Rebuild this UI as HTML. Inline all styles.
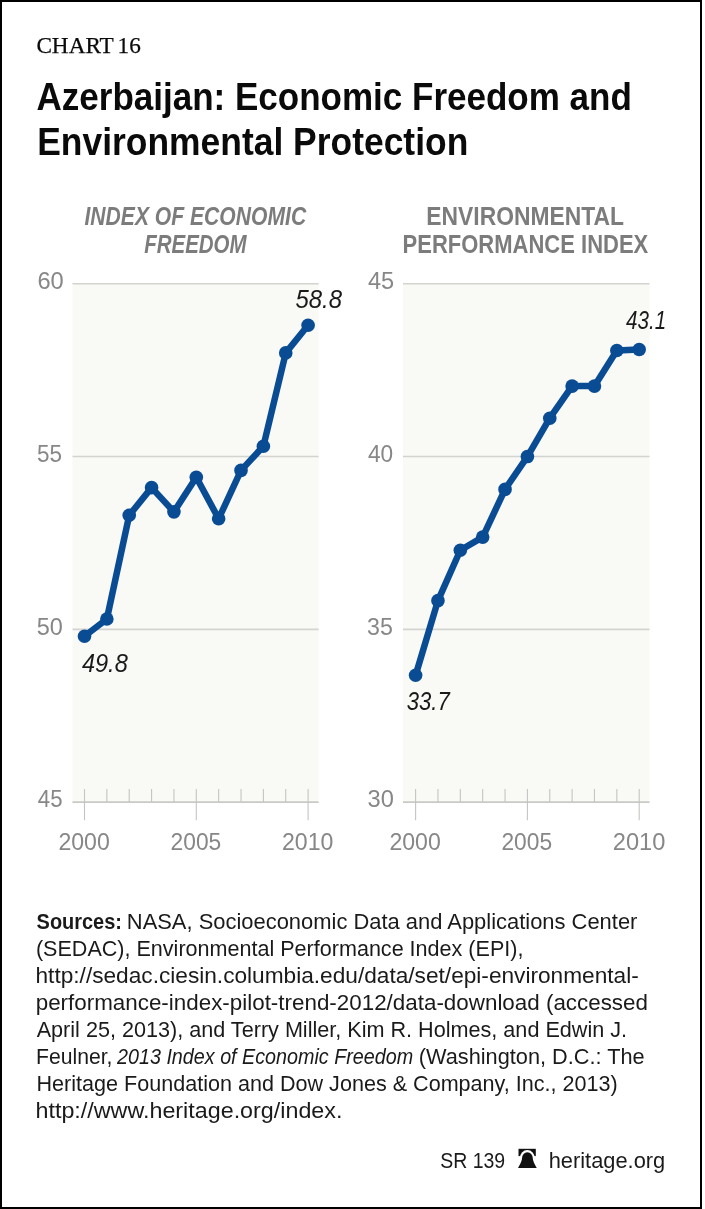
<!DOCTYPE html>
<html><head><meta charset="utf-8"><title>Azerbaijan: Economic Freedom and Environmental Protection</title><style>
html,body{margin:0;padding:0;background:#fff;}
body{width:705px;height:1209px;position:relative;overflow:hidden;}
#frame{position:absolute;left:0;top:0;width:698px;height:1205px;border:2px solid #000;}
svg{position:absolute;left:0;top:0;}
text{font-family:"Liberation Sans",sans-serif;white-space:pre;}
.ser{font-family:"Liberation Serif",serif;word-spacing:-1.5px;font-size:23.8px;fill:#0a0a0a;stroke:#0a0a0a;stroke-width:0.25px;}
.tit{font-weight:bold;font-size:39.5px;fill:#0a0a0a;}
.hi{font-style:italic;font-weight:bold;font-size:25.3px;fill:#7c7c7c;}
.hb{font-weight:bold;font-size:25.3px;fill:#7c7c7c;}
.ax{font-size:23.4px;fill:#878787;}
.vl{font-style:italic;font-size:25.8px;fill:#1a1a1a;}
.src{font-size:22px;fill:#1a1a1a;}
.ft{font-size:22px;fill:#1a1a1a;}
</style></head><body>
<div id="frame"></div>
<svg width="705" height="1209" viewBox="0 0 705 1209">
<rect x="72.5" y="283.8" width="246.10" height="518.30" fill="#f9f9f5"/>
<line x1="72.5" y1="283.80" x2="318.6" y2="283.80" stroke="#d3d3cf" stroke-width="1.6"/>
<line x1="72.5" y1="456.57" x2="318.6" y2="456.57" stroke="#d3d3cf" stroke-width="1.6"/>
<line x1="72.5" y1="629.33" x2="318.6" y2="629.33" stroke="#d3d3cf" stroke-width="1.6"/>
<line x1="72.5" y1="802.10" x2="318.6" y2="802.10" stroke="#c9c9c6" stroke-width="1.6"/>
<line x1="84.50" y1="789.0" x2="84.50" y2="820.3" stroke="#c4c4c2" stroke-width="1.1"/>
<line x1="106.86" y1="789.0" x2="106.86" y2="802.1" stroke="#c4c4c2" stroke-width="1.1"/>
<line x1="129.22" y1="789.0" x2="129.22" y2="802.1" stroke="#c4c4c2" stroke-width="1.1"/>
<line x1="151.58" y1="789.0" x2="151.58" y2="802.1" stroke="#c4c4c2" stroke-width="1.1"/>
<line x1="173.94" y1="789.0" x2="173.94" y2="802.1" stroke="#c4c4c2" stroke-width="1.1"/>
<line x1="196.30" y1="789.0" x2="196.30" y2="820.3" stroke="#c4c4c2" stroke-width="1.1"/>
<line x1="218.66" y1="789.0" x2="218.66" y2="802.1" stroke="#c4c4c2" stroke-width="1.1"/>
<line x1="241.02" y1="789.0" x2="241.02" y2="802.1" stroke="#c4c4c2" stroke-width="1.1"/>
<line x1="263.38" y1="789.0" x2="263.38" y2="802.1" stroke="#c4c4c2" stroke-width="1.1"/>
<line x1="285.74" y1="789.0" x2="285.74" y2="802.1" stroke="#c4c4c2" stroke-width="1.1"/>
<line x1="308.10" y1="789.0" x2="308.10" y2="820.3" stroke="#c4c4c2" stroke-width="1.1"/>
<polyline points="84.50,636.24 106.86,618.97 129.22,515.31 151.58,487.66 173.94,511.85 196.30,477.30 218.66,518.76 241.02,470.39 263.38,446.20 285.74,352.91 308.10,325.26" fill="none" stroke="#0a4c94" stroke-width="6.5" stroke-linejoin="round"/>
<circle cx="84.50" cy="636.24" r="6.8" fill="#0a4c94"/>
<circle cx="106.86" cy="618.97" r="6.8" fill="#0a4c94"/>
<circle cx="129.22" cy="515.31" r="6.8" fill="#0a4c94"/>
<circle cx="151.58" cy="487.66" r="6.8" fill="#0a4c94"/>
<circle cx="173.94" cy="511.85" r="6.8" fill="#0a4c94"/>
<circle cx="196.30" cy="477.30" r="6.8" fill="#0a4c94"/>
<circle cx="218.66" cy="518.76" r="6.8" fill="#0a4c94"/>
<circle cx="241.02" cy="470.39" r="6.8" fill="#0a4c94"/>
<circle cx="263.38" cy="446.20" r="6.8" fill="#0a4c94"/>
<circle cx="285.74" cy="352.91" r="6.8" fill="#0a4c94"/>
<circle cx="308.10" cy="325.26" r="6.8" fill="#0a4c94"/>
<rect x="403.0" y="283.8" width="246.50" height="518.30" fill="#f9f9f5"/>
<line x1="403.0" y1="283.80" x2="649.5" y2="283.80" stroke="#d3d3cf" stroke-width="1.6"/>
<line x1="403.0" y1="456.57" x2="649.5" y2="456.57" stroke="#d3d3cf" stroke-width="1.6"/>
<line x1="403.0" y1="629.33" x2="649.5" y2="629.33" stroke="#d3d3cf" stroke-width="1.6"/>
<line x1="403.0" y1="802.10" x2="649.5" y2="802.10" stroke="#c9c9c6" stroke-width="1.6"/>
<line x1="415.60" y1="789.0" x2="415.60" y2="820.3" stroke="#c4c4c2" stroke-width="1.1"/>
<line x1="437.96" y1="789.0" x2="437.96" y2="802.1" stroke="#c4c4c2" stroke-width="1.1"/>
<line x1="460.32" y1="789.0" x2="460.32" y2="802.1" stroke="#c4c4c2" stroke-width="1.1"/>
<line x1="482.68" y1="789.0" x2="482.68" y2="802.1" stroke="#c4c4c2" stroke-width="1.1"/>
<line x1="505.04" y1="789.0" x2="505.04" y2="802.1" stroke="#c4c4c2" stroke-width="1.1"/>
<line x1="527.40" y1="789.0" x2="527.40" y2="820.3" stroke="#c4c4c2" stroke-width="1.1"/>
<line x1="549.76" y1="789.0" x2="549.76" y2="802.1" stroke="#c4c4c2" stroke-width="1.1"/>
<line x1="572.12" y1="789.0" x2="572.12" y2="802.1" stroke="#c4c4c2" stroke-width="1.1"/>
<line x1="594.48" y1="789.0" x2="594.48" y2="802.1" stroke="#c4c4c2" stroke-width="1.1"/>
<line x1="616.84" y1="789.0" x2="616.84" y2="802.1" stroke="#c4c4c2" stroke-width="1.1"/>
<line x1="639.20" y1="789.0" x2="639.20" y2="820.3" stroke="#c4c4c2" stroke-width="1.1"/>
<polyline points="415.60,675.29 437.96,600.65 460.32,550.21 482.68,537.08 505.04,489.39 527.40,456.57 549.76,418.21 572.12,386.08 594.48,386.08 616.84,350.49 639.20,349.45" fill="none" stroke="#0a4c94" stroke-width="6.5" stroke-linejoin="round"/>
<circle cx="415.60" cy="675.29" r="6.8" fill="#0a4c94"/>
<circle cx="437.96" cy="600.65" r="6.8" fill="#0a4c94"/>
<circle cx="460.32" cy="550.21" r="6.8" fill="#0a4c94"/>
<circle cx="482.68" cy="537.08" r="6.8" fill="#0a4c94"/>
<circle cx="505.04" cy="489.39" r="6.8" fill="#0a4c94"/>
<circle cx="527.40" cy="456.57" r="6.8" fill="#0a4c94"/>
<circle cx="549.76" cy="418.21" r="6.8" fill="#0a4c94"/>
<circle cx="572.12" cy="386.08" r="6.8" fill="#0a4c94"/>
<circle cx="594.48" cy="386.08" r="6.8" fill="#0a4c94"/>
<circle cx="616.84" cy="350.49" r="6.8" fill="#0a4c94"/>
<circle cx="639.20" cy="349.45" r="6.8" fill="#0a4c94"/>
<text id="chart16" x="36.40" y="52.6" class="ser" textLength="104.41" lengthAdjust="spacingAndGlyphs">CHART 16</text>
<text id="t1" x="36.50" y="110.4" class="tit" textLength="595.34" lengthAdjust="spacingAndGlyphs">Azerbaijan: Economic Freedom and</text>
<text id="t2" x="37.20" y="155.4" class="tit" textLength="431.08" lengthAdjust="spacingAndGlyphs">Environmental Protection</text>
<text id="h1a" x="84.50" y="225" class="hi" textLength="221.64" lengthAdjust="spacingAndGlyphs">INDEX OF ECONOMIC</text>
<text id="h1b" x="144.20" y="252.8" class="hi" textLength="102.40" lengthAdjust="spacingAndGlyphs">FREEDOM</text>
<text id="h2a" x="426.30" y="225.1" class="hb" textLength="197.68" lengthAdjust="spacingAndGlyphs">ENVIRONMENTAL</text>
<text id="h2b" x="402.60" y="252.7" class="hb" textLength="245.67" lengthAdjust="spacingAndGlyphs">PERFORMANCE INDEX</text>
<text id="v588" x="295.40" y="308" class="vl" textLength="46.59" lengthAdjust="spacingAndGlyphs">58.8</text>
<text id="v498" x="81.90" y="671.8" class="vl" textLength="45.89" lengthAdjust="spacingAndGlyphs">49.8</text>
<text id="v431" x="626.10" y="329" class="vl" textLength="40.09" lengthAdjust="spacingAndGlyphs">43.1</text>
<text id="v337" x="406.80" y="710.2" class="vl" textLength="42.89" lengthAdjust="spacingAndGlyphs">33.7</text>
<text id="s1a" x="36.60" y="928.8" class="src" textLength="85.36" lengthAdjust="spacingAndGlyphs"><tspan font-weight="bold">Sources:</tspan></text>
<text id="s1b" x="126.80" y="928.8" class="src" textLength="510.61" lengthAdjust="spacingAndGlyphs">NASA, Socioeconomic Data and Applications Center</text>
<text id="s2" x="35.90" y="955.8" class="src" textLength="487.53" lengthAdjust="spacingAndGlyphs">(SEDAC), Environmental Performance Index (EPI),</text>
<text id="s3" x="35.50" y="982.6" class="src" textLength="603.28" lengthAdjust="spacingAndGlyphs">http://sedac.ciesin.columbia.edu/data/set/epi-environmental-</text>
<text id="s4" x="35.70" y="1009.6" class="src" textLength="612.27" lengthAdjust="spacingAndGlyphs">performance-index-pilot-trend-2012/data-download (accessed</text>
<text id="s5" x="36.70" y="1036.6" class="src" textLength="590.37" lengthAdjust="spacingAndGlyphs">April 25, 2013), and Terry Miller, Kim R. Holmes, and Edwin J.</text>
<text id="s6a" x="36.00" y="1063.6" class="src" textLength="76.50" lengthAdjust="spacingAndGlyphs">Feulner,</text>
<text id="s6b" x="117.00" y="1063.6" class="src" textLength="296.19" lengthAdjust="spacingAndGlyphs"><tspan font-style="italic">2013 Index of Economic Freedom</tspan></text>
<text id="s6c" x="418.80" y="1063.6" class="src" textLength="225.86" lengthAdjust="spacingAndGlyphs">(Washington, D.C.: The</text>
<text id="s7" x="36.50" y="1090.6" class="src" textLength="581.22" lengthAdjust="spacingAndGlyphs">Heritage Foundation and Dow Jones &amp; Company, Inc., 2013)</text>
<text id="s8" x="35.50" y="1117.7" class="src" textLength="306.93" lengthAdjust="spacingAndGlyphs">http://www.heritage.org/index.</text>
<text id="f1" x="440.20" y="1167.7" class="ft" textLength="64.99" lengthAdjust="spacingAndGlyphs">SR 139</text>
<text id="f2" x="548.70" y="1167.7" class="ft" textLength="116.52" lengthAdjust="spacingAndGlyphs">heritage.org</text>
<text id="ya60" x="37.40" y="289.0" class="ax" textLength="26.33" lengthAdjust="spacingAndGlyphs">60</text>
<text id="ya55" x="37.00" y="462.1" class="ax" textLength="25.03" lengthAdjust="spacingAndGlyphs">55</text>
<text id="ya50" x="36.80" y="634.6" class="ax" textLength="26.13" lengthAdjust="spacingAndGlyphs">50</text>
<text id="ya45" x="37.80" y="807.2" class="ax" textLength="24.73" lengthAdjust="spacingAndGlyphs">45</text>
<text id="yb45" x="368.00" y="289.0" class="ax" textLength="26.23" lengthAdjust="spacingAndGlyphs">45</text>
<text id="yb40" x="368.00" y="462.1" class="ax" textLength="25.23" lengthAdjust="spacingAndGlyphs">40</text>
<text id="yb35" x="367.00" y="634.6" class="ax" textLength="25.83" lengthAdjust="spacingAndGlyphs">35</text>
<text id="yb30" x="367.60" y="807.2" class="ax" textLength="26.33" lengthAdjust="spacingAndGlyphs">30</text>
<text id="xa0" x="58.40" y="850.2" class="ax" textLength="51.45" lengthAdjust="spacingAndGlyphs">2000</text>
<text id="xa5" x="170.60" y="850.2" class="ax" textLength="50.65" lengthAdjust="spacingAndGlyphs">2005</text>
<text id="xa10" x="282.00" y="850.2" class="ax" textLength="51.45" lengthAdjust="spacingAndGlyphs">2010</text>
<text id="xb0" x="389.40" y="850.2" class="ax" textLength="51.45" lengthAdjust="spacingAndGlyphs">2000</text>
<text id="xb5" x="501.40" y="850.2" class="ax" textLength="50.75" lengthAdjust="spacingAndGlyphs">2005</text>
<text id="xb10" x="612.80" y="850.2" class="ax" textLength="52.65" lengthAdjust="spacingAndGlyphs">2010</text>
<g transform="translate(518,1148)">
<rect x="0.5" y="0.8" width="17.3" height="7.3" fill="#111"/>
<ellipse cx="9.3" cy="10.2" rx="7.5" ry="8.1" fill="#fff"/>
<path d="M0,19.9 C0.8,18.6 4,13 4,10.2 A5.4,5.9 0 0 1 14.8,10.2 C14.8,13 18,18.6 18.8,19.9 Z" fill="#111"/>
</g>
</svg>
</body></html>
